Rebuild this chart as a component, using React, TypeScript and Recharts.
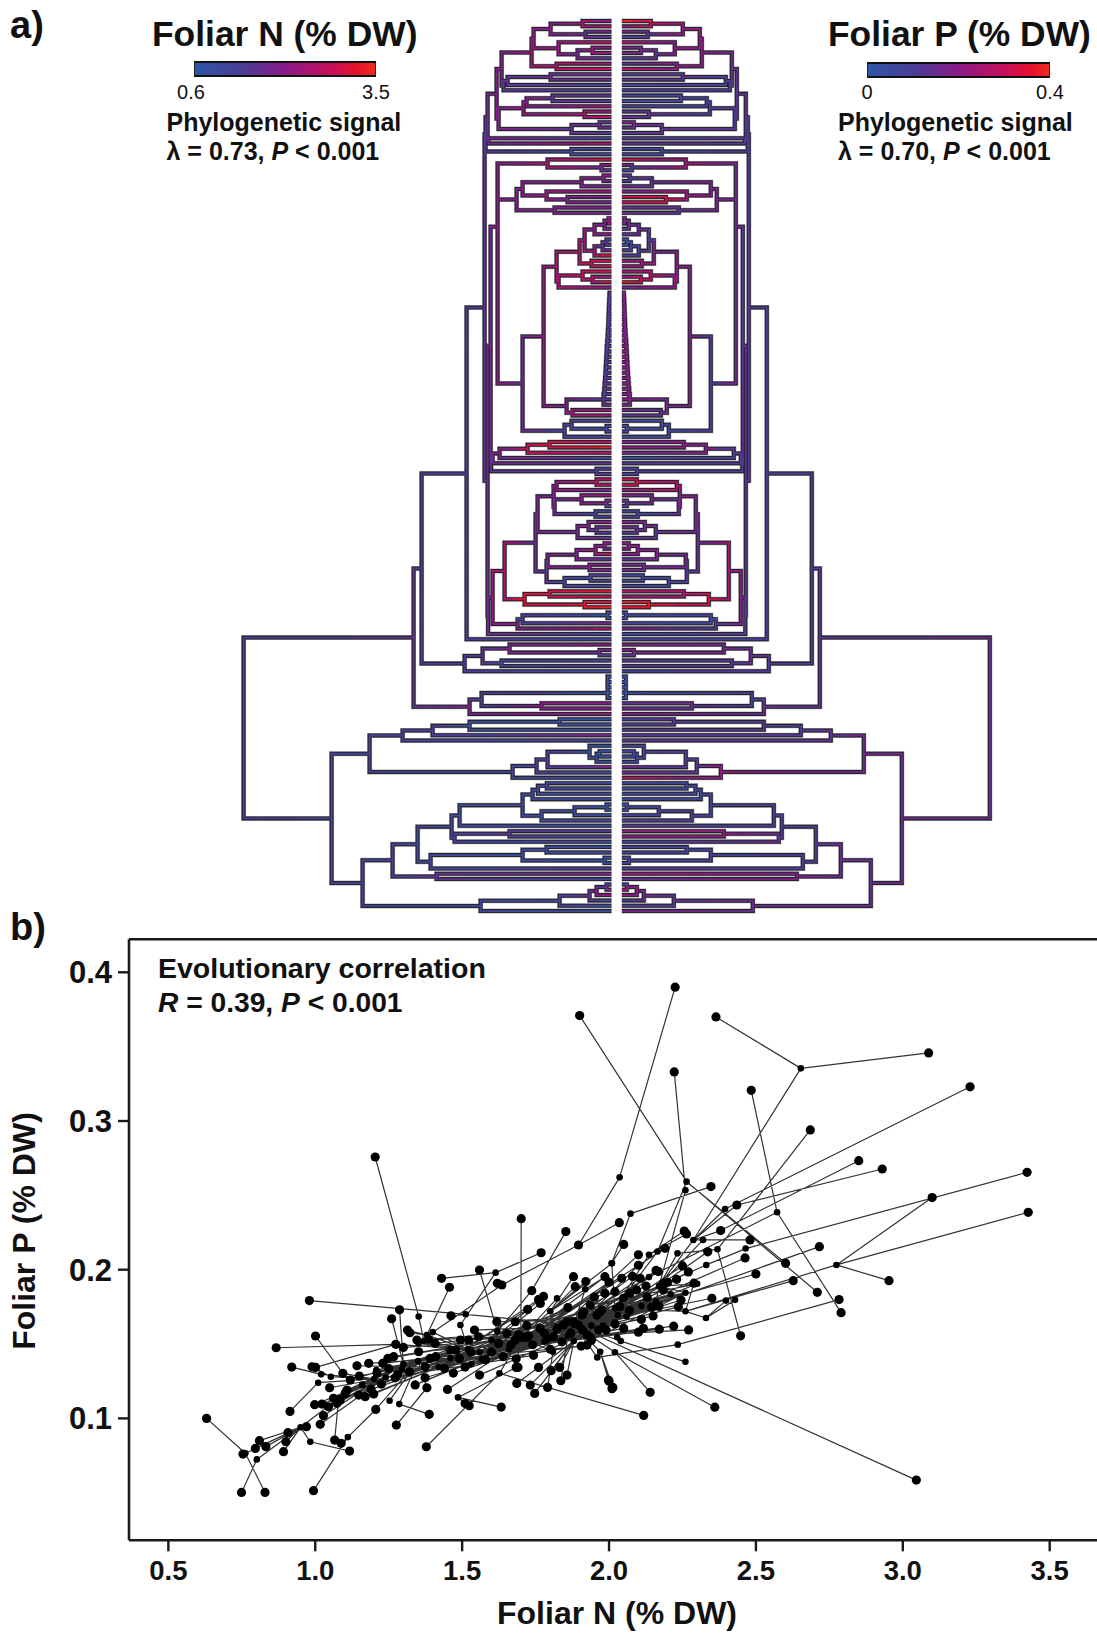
import { ComposedChart, Line, ReferenceLine, Scatter, XAxis, YAxis } from "recharts";

// clade = [depth from the tips, ...children], 0 = tip. Tips are numbered in reading order.
type Clade = number | Clade[];

const combDepths = [2, 2.2, 2.4, 2.6, 2.8, 3, 3.2, 3.4, 3.7, 4, 4.4, 4.8, 5, 5.3, 5.6, 5.9, 6.2, 6.6, 7, 7.4, 8];

const groupA: Clade = [80, [78, [61, [29, 0, 0], [26, 0, 0]], [53, 0, [34, [19, 0, 0], 0]]], [55, 0, 0]];
const groupB: Clade = [108, [104, [61, 0, 0], 0], 0];
const groupC: Clade = [113, [88, [85, [59, 0, 0], 0], [27, 0, 0]], [40, [12, 0, 0], 0]];
const groupD: Clade = [126, [124, [115, [110, groupA, groupB], groupC], [123, 0, 0]], [40, 0, 0]];
const groupE: Clade = [64, 0, [10, 0, 0]];
const groupF: Clade = [95, [89, [30, [8, 0, 0], 0], [65, 0, [44, 0, 0]]], [57, 0, 0]];
const groupG: Clade = [55, [32, [27, [17, [7, [3, 0, 0], 0], 0], [17, [9, [5, 0, 0], 0], 0]], [20, 0, 0]], [53, [29, 0, [19, 0, 0]], 0]];
const comb: Clade = combDepths.reduce<Clade>((inner, d) => [d, inner, 0], 0);
const groupH: Clade = [89, [68, groupG, [45, comb, [39, 0, 0]]], [47, [40, 0, [5, 0, 0]], 0]];
const groupK: Clade = [114, groupE, groupF, groupH];
const groupL: Clade = [120.5, [119, [112, [84, [62, 0, 0], 0], 0], 0], [15, 0, 0]];
const groupM: Clade = [74, [58, [55, [15, 0, 0], 0], [57, [30, 0, [5, 0, 0]], [16, 0, 0]]], [34, [23, 0, [15, 0, 0]], 0]];
const groupN: Clade = [65, [64, [35, [16, [7, 0, 0], 0], 0], [22, 0, 0]], [47, [21, 0, 0], 0]];
const groupO: Clade = [123.5, [119, [107, [76, groupM, groupN], [87, [62, 0, 0], [27, 0, 0]]], [94, [89, [4, 0, 0], 0], 0]], 0];
const groupQ: Clade = [145, [127, groupD, [124, [121, groupK, groupL], groupO]], 0];
const groupR: Clade = [147, [129, [102, 0, [12, 0, 0]], [110, 0, 0]], 0];
const blueComb: Clade = [4, 0, 0, 0, 0, 0];
const groupS: Clade = [142, [130, blueComb, [70, 0, 0]], 0];
const groupT: Clade = [242, [209, [179, [142, [52, 0, 0], 0], 0], 0], [99, [75, [64, [22, 0, [15, [12, 0, 0], 0]], 0], 0], 0]];
const groupU: Clade = [160, [152, [89, [79, [73.7, [64.7, 0, 0], 0], 0], [70, [37, [5, 0, 0], 0], 0]], 0], [157, [102, 0, 0], 0]];
const groupV: Clade = [249, [219, [194, groupU, [181, [89, [65, 0, 0], [7, 0, 0]], 0]], [175, 0, 0]], [131, [52, [22, [15, [5, 0, 0], 0], 0], 0], 0]];
const treeRoot: Clade = [368, [198, [190, groupQ, groupR], groupS], [280, groupT, groupV]];

// stems that do not sit midway between their children (tip rows)
const stemRows = new Map<Clade, number>([[groupK, 38.6], [blueComb, 126.1]]);

const foliarN = [
  2.05, 2.63, 1.91, 1.47, 2.63, 2.05, 2.2, 1.47, 2.34, 2.78, 1.62, 1.76, 1.33, 1.47, 1.62, 1.47, 2.34, 2.2, 2.63,
  1.62, 1.76, 1.47, 1.18, 2.49, 1.04, 1.18, 3.07, 2.05, 1.62, 2.2, 1.76, 1.76, 2.34, 2.05, 1.76, 1.91, 1.91,
  2.05, 2.2, 1.76, 2.05, 1.47, 1.33, 1.76, 3.07, 2.92, 2.92, 2.92, 2.2, 2.92, 2.05,
  1.47, 1.33, 1.47, 1.62, 1.47, 1.33, 1.33, 1.47, 1.47, 1.33, 1.47, 1.62, 1.47, 1.33, 1.47, 1.33, 1.47, 1.47, 1.62, 1.47, 1.47, 1.62,
  2.34, 2.34, 1.18, 1.18, 1.04, 1.18, 2.63, 3.36, 2.49, 1.04, 1.62, 1.33, 1.47,
  2.78, 2.49, 1.76, 2.34, 2.05, 1.62, 1.18, 1.33, 2.2, 1.76, 1.47, 1.62, 2.05, 1.76, 2.78, 1.47, 2.05, 1.91, 1.33, 1.18, 1.18,
  3.21, 2.78, 3.07, 3.36, 0.89, 0.89, 1.76, 2.49, 1.18, 1.04, 2.05, 1.91, 1.47, 1.18, 1.33, 1.04,
  0.83, 0.83, 0.83, 0.83, 0.83, 2.05, 2.05, 2.34, 0.89, 0.89, 0.89, 1.76, 1.18, 0.89, 0.89, 0.89, 0.89, 1.91, 1.18, 1.04,
  1.04, 1.04, 0.95, 1.04, 0.83, 0.95, 0.95, 1.04, 0.89, 1.47, 1.47, 1.04, 0.89, 0.95, 0.89, 0.89, 1.33, 1.91, 1.18, 1.33, 1.91, 2.34, 1.04, 0.89, 0.89,
];
const foliarP = [
  0.38, 0.22, 0.18, 0.1, 0.26, 0.18, 0.16, 0.1, 0.12, 0.28, 0.12, 0.14, 0.08, 0.1, 0.08, 0.06, 0.1, 0.12, 0.14,
  0.18, 0.14, 0.12, 0.1, 0.14, 0.06, 0.08, 0.34, 0.16, 0.08, 0.14, 0.08, 0.16, 0.16, 0.34, 0.3, 0.14, 0.14,
  0.18, 0.16, 0.12, 0.14, 0.04, 0.06, 0.12, 0.1, 0.24, 0.24, 0.22, 0.24, 0.36, 0.16,
  0.2, 0.18, 0.2, 0.22, 0.2, 0.2, 0.18, 0.2, 0.2, 0.18, 0.2, 0.2, 0.22, 0.2, 0.2, 0.18, 0.2, 0.2, 0.18, 0.2, 0.2, 0.18,
  0.16, 0.12, 0.06, 0.08, 0.06, 0.06, 0.18, 0.22, 0.16, 0.04, 0.12, 0.1, 0.1,
  0.32, 0.32, 0.22, 0.2, 0.14, 0.14, 0.1, 0.08, 0.18, 0.16, 0.12, 0.12, 0.2, 0.2, 0.2, 0.14, 0.18, 0.16, 0.06, 0.06, 0.08,
  0.28, 0.24, 0.38, 0.36, 0.04, 0.06, 0.08, 0.18, 0.06, 0.08, 0.18, 0.2, 0.12, 0.12, 0.12, 0.1,
  0.04, 0.04, 0.05, 0.04, 0.04, 0.14, 0.16, 0.2, 0.1, 0.12, 0.12, 0.12, 0.14, 0.08, 0.06, 0.06, 0.06, 0.16, 0.16, 0.3,
  0.06, 0.06, 0.06, 0.08, 0.04, 0.08, 0.08, 0.12, 0.12, 0.22, 0.2, 0.08, 0.08, 0.08, 0.08, 0.08, 0.12, 0.24, 0.14, 0.12, 0.24, 0.22, 0.1, 0.1, 0.18,
];

// internal nodes of the phylomorphospace: [N, P, parent node]
const morphoNodes: number[][] = [
  [1.7, 0.1545, -1], [1.52, 0.1465, 0], [1.35, 0.1385, 1], [1.2, 0.1265, 2], [1.08, 0.1135, 3], [0.95, 0.094, 4], [0.801, 0.0724, 5], [0.762, 0.0765, 5],
  [1.88, 0.163, 0], [2.02, 0.174, 8], [2.17, 0.189, 9], [2.331, 0.2032, 10], [2.465, 0.2142, 11], [2.774, 0.2032, 14], [2.26, 0.172, 9], [2.653, 0.3354, 16],
  [2.287, 0.22, 10], [2.036, 0.2621, 18], [1.896, 0.2166, 20], [2.073, 0.2377, 23], [1.635, 0.1897, 21], [1.4, 0.158, 1], [2.264, 0.2592, 26], [2.009, 0.2043, 9],
  [2.26, 0.2534, 10], [2.572, 0.2386, 27], [2.165, 0.2122, 9], [2.136, 0.195, 9], [2.395, 0.2408, 16], [2.435, 0.2435, 16], [2.38, 0.2263, 16], [2.369, 0.2137, 32],
  [2.233, 0.211, 10], [3.1, 0.2485, 13], [2.33, 0.1675, 14], [2.234, 0.1496, 38], [2.429, 0.1797, 34], [2.398, 0.1792, 34], [1.96, 0.141, 8], [1.01, 0.124, 3],
  [1.111, 0.0874, 41], [1.206, 0.106, 2], [0.983, 0.0843, 5], [1.02, 0.1296, 3], [1.053, 0.128, 3], [1.094, 0.1303, 3], [1.274, 0.1498, 1], [1.512, 0.17, 8],
  [1.352, 0.1685, 49], [1.37, 0.152, 1], [1.614, 0.198, 51], [1.494, 0.1628, 1], [1.62, 0.1585, 0], [1.38, 0.156, 1], [1.286, 0.1096, 2], [1.38, 0.1206, 2],
  [1.627, 0.1303, 0], [1.486, 0.1141, 58], [1.684, 0.1343, 0], [1.253, 0.1119, 2], [1.531, 0.1365, 0], [1.567, 0.1397, 0], [1.88, 0.152, 8], [1.809, 0.1448, 0],
  [1.97, 0.1448, 8], [2.26, 0.138, 66], [2.04, 0.152, 8], [2.02, 0.1445, 8], [1.987, 0.1953, 69], [1.8, 0.172, 0], [2.01, 0.2043, 69], [1.823, 0.1807, 0],
  [1.919, 0.1868, 8], [1.208, 0.1325, 2], [1.295, 0.133, 2], [2.32, 0.22, 10], [2.136, 0.21, 9], [2.028, 0.1545, 66], [1.352, 0.1505, 1], [1.737, 0.1859, 52],
  [1.1, 0.1175, 84], [1.16, 0.1225, 85], [1.24, 0.1275, 86], [1.3, 0.1365, 87], [1.42, 0.1345, 88], [1.46, 0.1405, 89], [1.56, 0.1445, 90], [1.6, 0.1525, 91],
  [1.66, 0.1465, 92], [1.72, 0.1535, 93], [1.78, 0.1515, 94], [1.82, 0.1595, 95], [1.86, 0.1555, 96], [1.94, 0.1625, 97], [1.98, 0.1625, 98], [2.03, 0.1695, 99],
  [2.06, 0.1685, 100], [2.11, 0.1755, 101], [2.16, 0.1785, 10], [2.21, 0.1835, 10], [2.26, 0.1845, 10], [2.3, 0.1905, 10],
];

// species: [N, P, parent node]
const morphoOuterTips: number[][] = [
  [2.225, 0.39, 17], [1.9, 0.3709, 22], [2.364, 0.37, 15], [3.088, 0.3458, 15], [2.222, 0.333, 24], [2.484, 0.3206, 25], [3.229, 0.323, 28], [2.685, 0.294, 31],
  [2.85, 0.2733, 30], [2.93, 0.2677, 29], [3.423, 0.2655, 12], [3.1, 0.2485, 33], [3.427, 0.2386, 13], [2.953, 0.1926, 13], [2.783, 0.1799, 35], [2.79, 0.1711, 25],
  [2.709, 0.1848, 22], [2.627, 0.1926, 14], [2.601, 0.2043, 22], [2.716, 0.2155, 92], [2.347, 0.2559, 19], [2.435, 0.2435, 29], [2.38, 0.2263, 30], [2.48, 0.22, 16],
  [2.463, 0.2079, 93], [2.5, 0.1971, 91], [2.289, 0.1909, 14], [2.336, 0.212, 10], [2.256, 0.226, 76], [2.264, 0.224, 76], [2.19, 0.2144, 88], [2.1, 0.21, 90],
  [2.1, 0.203, 92], [2.05, 0.217, 23], [2.035, 0.2316, 18], [2.35, 0.1808, 91], [2.245, 0.1796, 92], [2.236, 0.175, 88], [2.145, 0.1747, 90], [2.15, 0.1689, 88],
  [2.448, 0.1555, 31], [2.271, 0.1595, 89], [2.22, 0.162, 90], [2.171, 0.16, 86], [2.117, 0.1606, 88], [2.1, 0.158, 90], [3.046, 0.0585, 8], [2.36, 0.1075, 67],
  [2.14, 0.1175, 67], [2.118, 0.102, 56], [2.0, 0.125, 64], [2.01, 0.12, 64], [1.896, 0.2166, 18],
];
const morphoUpperTips: number[][] = [
  [1.701, 0.2343, 0], [1.853, 0.2256, 79], [1.737, 0.1859, 79], [1.769, 0.2114, 50], [1.43, 0.1942, 50], [1.559, 0.1998, 52], [1.62, 0.1908, 20], [1.635, 0.1897, 20],
  [1.457, 0.1882, 53], [1.723, 0.1733, 85], [1.766, 0.1773, 86], [1.777, 0.182, 87], [1.76, 0.18, 84], [1.879, 0.1953, 69], [1.921, 0.192, 69], [1.885, 0.1886, 69],
  [0.98, 0.1792, 47], [1.462, 0.169, 47], [1.204, 0.2758, 48], [1.287, 0.173, 83], [1.26, 0.167, 83], [1.314, 0.1594, 53], [1.322, 0.1576, 53],
  [1.986, 0.1953, 88], [2.043, 0.1942, 89], [2.106, 0.1942, 90], [2.126, 0.189, 91], [2.094, 0.1864, 92], [2.071, 0.1841, 86], [2.049, 0.1808, 87], [2.02, 0.1852, 88],
  [1.986, 0.1841, 85], [1.975, 0.173, 84], [2.037, 0.1752, 86], [2.168, 0.1987, 91], [2.185, 0.1909, 92], [2.185, 0.1864, 93],
];
const morphoMiddleTips: number[][] = [
  [1.346, 0.1527, 91], [1.386, 0.1531, 92], [1.408, 0.1504, 93], [1.542, 0.1594, 93], [1.522, 0.1527, 94], [1.556, 0.1549, 95], [1.494, 0.1527, 92], [1.618, 0.165, 95],
  [1.681, 0.165, 96], [1.652, 0.1572, 97], [1.666, 0.1493, 97], [1.624, 0.1504, 96], [1.391, 0.1403, 91], [1.491, 0.1403, 93], [1.477, 0.146, 90], [1.46, 0.146, 92],
  [1.352, 0.1448, 90], [1.3, 0.1477, 89], [1.374, 0.1347, 89], [1.374, 0.1273, 90], [1.703, 0.1545, 97], [1.715, 0.1545, 98], [1.692, 0.156, 96], [1.726, 0.1554, 99],
  [1.857, 0.165, 99], [1.879, 0.165, 100], [1.845, 0.1628, 98], [1.896, 0.1628, 99], [1.823, 0.1605, 97], [1.913, 0.1717, 100], [1.936, 0.1762, 101], [1.97, 0.1717, 100],
  [1.959, 0.1695, 99], [1.908, 0.1695, 98], [1.964, 0.1594, 84], [1.925, 0.156, 85], [1.905, 0.1486, 83], [1.925, 0.1493, 84], [1.936, 0.1545, 86], [1.789, 0.1538, 83],
  [1.766, 0.1605, 86], [1.811, 0.1549, 85], [1.684, 0.1343, 58], [1.69, 0.1343, 58], [1.684, 0.1401, 58], [1.743, 0.1424, 82], [1.686, 0.1235, 62], [1.732, 0.1224, 62],
  [1.747, 0.1168, 62], [1.791, 0.1208, 63], [1.836, 0.1253, 92], [1.857, 0.1291, 62], [1.803, 0.1321, 62], [1.832, 0.1343, 62], [1.76, 0.1343, 62], [1.45, 0.1195, 88],
  [1.559, 0.1291, 92], [1.633, 0.1076, 57], [1.524, 0.1085, 57], [1.51, 0.11, 57], [1.378, 0.0809, 56], [1.388, 0.1027, 54], [1.276, 0.0955, 55], [1.38, 0.1206, 55],
];
const morphoBandTips: number[][] = [
  [1.15, 0.1285, 85], [1.19, 0.1195, 86], [1.21, 0.1305, 87], [1.25, 0.1335, 88], [1.28, 0.1295, 88], [1.32, 0.1315, 89], [1.34, 0.1225, 89], [1.41, 0.1415, 91],
  [1.44, 0.1335, 91], [1.47, 0.1305, 92], [1.51, 0.1345, 92], [1.53, 0.1445, 93], [1.58, 0.1395, 94], [1.6, 0.1445, 94], [1.64, 0.1415, 95], [1.68, 0.1525, 96],
  [1.74, 0.1495, 96], [1.78, 0.1575, 97], [1.8, 0.1465, 97], [1.84, 0.1515, 98], [1.87, 0.1575, 99], [1.91, 0.1595, 100], [1.94, 0.1525, 100], [1.99, 0.1595, 86],
  [2.02, 0.1635, 87], [2.05, 0.1605, 88], [2.07, 0.1725, 88], [2.11, 0.1665, 89], [2.13, 0.1815, 90], [2.17, 0.1755, 90], [2.2, 0.1915, 91], [2.23, 0.1935, 91],
  [2.27, 0.1985, 92], [2.25, 0.2025, 93], [2.16, 0.1995, 92], [2.08, 0.1955, 90], [2.0, 0.1915, 88], [1.95, 0.1815, 86], [1.86, 0.1745, 84], [1.72, 0.1625, 83],
];
const morphoLowerTips: number[][] = [
  [0.63, 0.1, 7], [0.829, 0.0502, 7], [0.754, 0.076, 7], [0.749, 0.0502, 6], [0.81, 0.085, 5], [0.796, 0.0798, 5], [0.832, 0.081, 5], [0.892, 0.0776, 5],
  [0.907, 0.0904, 5], [0.9, 0.0843, 5], [0.97, 0.0944, 5], [1.017, 0.096, 82], [1.028, 0.1018, 83], [0.914, 0.1047, 39], [0.994, 0.0514, 40], [1.117, 0.078, 42],
  [1.088, 0.0832, 40], [1.066, 0.0854, 4], [0.998, 0.1092, 81], [1.023, 0.1096, 82], [1.049, 0.1206, 82], [0.92, 0.1345, 43], [0.989, 0.1347, 44], [1.001, 0.1343, 46],
  [1.001, 0.1554, 45], [0.867, 0.1475, 46], [1.274, 0.1498, 46], [1.206, 0.106, 41], [1.119, 0.1258, 83], [1.142, 0.1354, 84], [1.182, 0.137, 85], [1.094, 0.1303, 45],
  [1.23, 0.137, 86], [1.247, 0.1403, 87], [1.267, 0.1415, 87], [1.225, 0.1231, 85], [1.272, 0.1273, 86], [1.199, 0.1164, 84], [1.17, 0.1146, 84], [1.148, 0.1157, 83],
  [1.102, 0.1168, 83], [1.085, 0.1123, 82], [1.062, 0.1135, 82], [1.045, 0.1078, 81], [1.108, 0.119, 83], [1.074, 0.1101, 82], [1.998, 0.1258, 64], [2.013, 0.1208, 64],
];
const morphoTips = [...morphoOuterTips, ...morphoUpperTips, ...morphoMiddleTips, ...morphoBandTips, ...morphoLowerTips];

const xTicks = [0.5, 1, 1.5, 2, 2.5, 3, 3.5];
const yTicks = [0.1, 0.2, 0.3, 0.4];

const rampStops: [number, number[]][] = [
  [0, [47, 85, 165]],
  [0.25, [72, 62, 150]],
  [0.5, [138, 26, 135]],
  [0.75, [196, 16, 90]],
  [0.9, [232, 16, 44]],
  [1, [238, 43, 36]],
];
const ramp = (f: number) => {
  const i = Math.max(rampStops.findIndex(([s]) => s >= f), 1);
  const [s0, c0] = rampStops[i - 1];
  const [s1, c1] = rampStops[i];
  const k = (f - s0) / (s1 - s0);
  return `rgb(${c0.map((c, j) => Math.round(c + (c1[j] - c) * k)).join(",")})`;
};
const rampCss = rampStops.map(([s]) => `${ramp(s)} ${s * 100}%`).join(", ");

const gap = 5.1;

type Pt = { x: number; y: number | null };

function buildTree(values: number[], min: number, max: number, side: number) {
  const buckets = new Map<number, Pt[]>();
  const outline: Pt[] = [];
  let tip = 0;
  const seg = (list: Pt[], x1: number, y1: number, x2: number, y2: number) => {
    list.push({ x: x1, y: y1 }, { x: x2, y: y2 }, { x: x2, y: null });
  };
  const px = (d: number) => side * (gap + d);
  const colored = (f: number, x1: number, y1: number, x2: number, y2: number) => {
    const key = Math.round(Math.min(1, Math.max(0, f)) * 24);
    if (!buckets.has(key)) buckets.set(key, []);
    seg(buckets.get(key)!, x1, y1, x2, y2);
  };
  const walk = (c: Clade): { d: number; y: number; f: number } => {
    if (typeof c === "number") {
      const f = (values[tip] - min) / (max - min);
      return { d: 0, y: tip++, f };
    }
    const [d, ...kids] = c as [number, ...Clade[]];
    const res = kids.map(walk);
    const ys = res.map((r) => r.y);
    const y = stemRows.get(c) ?? (Math.min(...ys) + Math.max(...ys)) / 2;
    const f = res.reduce((s, r) => s + r.f, 0) / res.length;
    seg(outline, px(d), Math.min(...ys), px(d), Math.max(...ys));
    colored(f, px(d), Math.min(...ys), px(d), Math.max(...ys));
    res.forEach((r) => {
      seg(outline, px(d), r.y, px(r.d), r.y);
      const pieces = Math.max(1, Math.min(6, Math.ceil((d - r.d) / 12)));
      for (let i = 0; i < pieces; i++) {
        const a = d + ((r.d - d) * i) / pieces;
        const b = d + ((r.d - d) * (i + 1)) / pieces;
        // the colour only moves toward the tip value near the far end of the arm
        colored(f + (r.f - f) * ((i + 1) / pieces) ** 2, px(a), r.y, px(b), r.y);
      }
    });
    return { d, y, f };
  };
  walk(treeRoot);
  return { buckets, outline };
}

const leftTree = buildTree(foliarN, 0.6, 3.5, -1);
const rightTree = buildTree(foliarP, 0, 0.4, 1);
const allOutline = [...leftTree.outline, ...rightTree.outline];

const colorSeries = [leftTree, rightTree].flatMap((t) => [...t.buckets.entries()]);

const edgeRows: Pt[] = [...morphoNodes, ...morphoTips].flatMap(([n, p, parent]) => {
  if (parent < 0) return [];
  const [pn, pp] = morphoNodes[parent];
  return [{ x: n, y: p }, { x: pn, y: pp }, { x: pn, y: null }];
});
const nodeDots = morphoNodes.map(([x, y]) => ({ x, y }));
const tipDots = morphoTips.map(([x, y]) => ({ x, y }));

const FONT = '"Liberation Sans", Arial, sans-serif';

function Label({ x, cy, size, bold = true, anchor = "left", rotate, color = "#111", children }: any) {
  const tx = anchor === "center" ? "-50%" : "0";
  return (
    <div
      style={{
        position: "absolute",
        left: x,
        top: cy,
        fontFamily: FONT,
        fontSize: size,
        fontWeight: bold ? 700 : 400,
        color,
        lineHeight: 1,
        whiteSpace: "nowrap",
        transform: `translate(${tx}, -50%)${rotate ? ` rotate(${rotate}deg)` : ""}`,
      }}
    >
      {children}
    </div>
  );
}

function ColorBar({ left, width, top }: { left: number; width: number; top: number }) {
  return (
    <div
      style={{
        position: "absolute",
        left,
        top,
        width,
        height: 12,
        background: `linear-gradient(to right, ${rampCss})`,
        borderTop: "2px solid #111",
        borderBottom: "2px solid #111",
        borderLeft: "1px solid #222",
        borderRight: "1px solid #222",
      }}
    />
  );
}

const tickStyle = { fill: "#111", fontSize: 27.5, fontWeight: 700, fontFamily: FONT };

export default function App() {
  return (
    <div style={{ position: "absolute", left: 0, top: 0, width: 1097, height: 1634, background: "#fff", overflow: "hidden" }}>
      <div style={{ position: "absolute", left: 0, top: 0 }}>
        <ComposedChart width={1097} height={930} margin={{ top: 0, right: 0, bottom: 0, left: 0 }}>
          <XAxis type="number" dataKey="x" hide domain={[-616.7, 480.3]} allowDataOverflow />
          <YAxis type="number" dataKey="y" hide reversed domain={[-3.94, 170.55]} allowDataOverflow width={0} />
          <Line data={allOutline} dataKey="y" stroke="#a8a8a8" strokeWidth={5} strokeLinecap="square" dot={false} activeDot={false} isAnimationActive={false} legendType="none" />
          <Line data={allOutline} dataKey="y" stroke="#24242c" strokeWidth={4} strokeLinecap="square" dot={false} activeDot={false} isAnimationActive={false} legendType="none" />
          {colorSeries.map(([key, rows], i) => (
            <Line
              key={i}
              data={rows}
              dataKey="y"
              stroke={ramp(key / 24)}
              strokeWidth={1.9}
              strokeLinecap="square"
              dot={false}
              activeDot={false}
              isAnimationActive={false}
              legendType="none"
            />
          ))}
          <Line
            data={[{ x: 0, y: -3.94 }, { x: 0, y: 170.55 }]}
            dataKey="y"
            stroke="#fff"
            strokeWidth={10.2}
            dot={false}
            activeDot={false}
            isAnimationActive={false}
            legendType="none"
          />
        </ComposedChart>
      </div>

      <div style={{ position: "absolute", left: 0, top: 0 }}>
        <ComposedChart width={1097} height={1634} margin={{ top: 939.3, right: 0, bottom: 92.7, left: 128 }} style={{ background: "transparent" }}>
          <XAxis
            type="number"
            dataKey="x"
            domain={[0.366, 3.661]}
            allowDataOverflow
            ticks={xTicks}
            interval={0}
            height={1}
            tickFormatter={(v: number) => v.toFixed(1)}
            tick={tickStyle}
            tickSize={11}
            tickMargin={9}
            axisLine={{ stroke: "#1a1a1a", strokeWidth: 2.6 }}
            tickLine={{ stroke: "#1a1a1a", strokeWidth: 2.4 }}
          />
          <YAxis
            type="number"
            dataKey="y"
            domain={[0.018, 0.4222]}
            allowDataOverflow
            ticks={yTicks}
            interval={0}
            width={1}
            tickFormatter={(v: number) => v.toFixed(1)}
            tick={{ ...tickStyle, fontSize: 31 }}
            tickSize={11}
            tickMargin={6}
            axisLine={{ stroke: "#1a1a1a", strokeWidth: 2.6 }}
            tickLine={{ stroke: "#1a1a1a", strokeWidth: 2.4 }}
          />
          <ReferenceLine y={0.4222} stroke="#1a1a1a" strokeWidth={2.6} />
          <Line data={edgeRows} dataKey="y" stroke="#333" strokeWidth={1.2} dot={false} activeDot={false} isAnimationActive={false} legendType="none" />
          <Scatter
            data={nodeDots}
            dataKey="y"
            fill="#000"
            isAnimationActive={false}
            shape={(p: any) => <circle cx={p.cx} cy={p.cy} r={3.3} fill="#000" />}
          />
          <Scatter
            data={tipDots}
            dataKey="y"
            fill="#000"
            isAnimationActive={false}
            shape={(p: any) => <circle cx={p.cx} cy={p.cy} r={4.6} fill="#000" />}
          />
        </ComposedChart>
      </div>

      <Label x={10} cy={25} size={38}>a)</Label>
      <Label x={10} cy={927} size={38}>b)</Label>

      <Label x={152} cy={35} size={35.4}>Foliar N (% DW)</Label>
      <ColorBar left={194} width={180} top={61} />
      <Label x={191} cy={92} size={20} bold={false} anchor="center">0.6</Label>
      <Label x={376} cy={92} size={20} bold={false} anchor="center">3.5</Label>
      <Label x={166.5} cy={122} size={25}>Phylogenetic signal</Label>
      <Label x={166.5} cy={151} size={25}>λ = 0.73, <i>P</i> &lt; 0.001</Label>

      <Label x={828} cy={35} size={35.4}>Foliar P (% DW)</Label>
      <ColorBar left={867} width={181} top={62} />
      <Label x={867} cy={92} size={20} bold={false} anchor="center">0</Label>
      <Label x={1050} cy={92} size={20} bold={false} anchor="center">0.4</Label>
      <Label x={838} cy={122} size={25}>Phylogenetic signal</Label>
      <Label x={838} cy={151} size={25}>λ = 0.70, <i>P</i> &lt; 0.001</Label>

      <Label x={158} cy={968} size={28.5}>Evolutionary correlation</Label>
      <Label x={158} cy={1002} size={28.2}><i>R</i> = 0.39, <i>P</i> &lt; 0.001</Label>

      <Label x={617} cy={1613} size={32} anchor="center">Foliar N (% DW)</Label>
      <Label x={24} cy={1231} size={32} anchor="center" rotate={-90}>Foliar P (% DW)</Label>
    </div>
  );
}
